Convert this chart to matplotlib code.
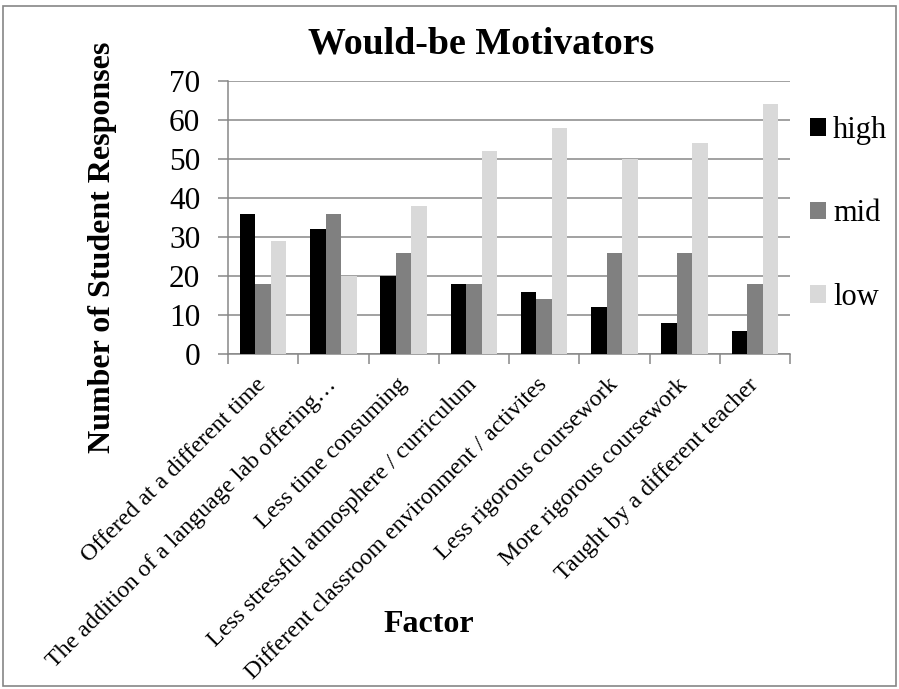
import matplotlib
matplotlib.use("Agg")
import matplotlib.pyplot as plt
import numpy as np
from matplotlib.patches import Rectangle

plt.rcParams['font.family'] = ['Liberation Serif', 'DejaVu Serif']

categories = ["Offered at a different time",
              "The addition of a language lab offering\u2026",
              "Less time consuming",
              "Less stressful atmosphere / curriculum",
              "Different classroom environment / activites",
              "Less rigorous coursework",
              "More rigorous coursework",
              "Taught by a different teacher"]
high = [36, 32, 20, 18, 16, 12, 8, 6]
mid = [18, 36, 26, 18, 14, 26, 26, 18]
low = [29, 20, 38, 52, 58, 50, 54, 64]
series_names = ["high", "mid", "low"]
colors = ["#000000", "#808080", "#d9d9d9"]
yticks = [0, 10, 20, 30, 40, 50, 60, 70]

W, H = 899, 689
fig = plt.figure(figsize=(W / 100, H / 100), dpi=100)
fig.patches.append(Rectangle((3 / W, 3 / H), 1 - 6 / W, 1 - 9 / H, transform=fig.transFigure,
                             fill=False, edgecolor="#868686", linewidth=1.2))

ax = fig.add_axes([228 / W, 1 - 354 / H, 562 / W, 273 / H])
x = np.arange(len(categories))
bw = 0.22
for i, (vals, c, n) in enumerate(zip([high, mid, low], colors, series_names)):
    ax.bar(x + (i - 1) * bw, vals, width=bw, color=c, label=n, zorder=3)

ax.set_xlim(-0.5, len(categories) - 0.5)
ax.set_ylim(0, 70)
ax.set_yticks(yticks)
ax.yaxis.grid(True, color="#878787", linewidth=1.1, zorder=0)
for s in ["top", "right"]:
    ax.spines[s].set_visible(False)
for s in ["left", "bottom"]:
    ax.spines[s].set_color("#878787")
    ax.spines[s].set_linewidth(1.1)

ax.set_xticks(np.arange(-0.5, len(categories), 1.0), minor=False)
ax.set_xticklabels([])
ax.set_xticks(x, minor=True)
ax.set_xticklabels(categories, minor=True, rotation=45, ha="right", va="center",
                   rotation_mode="anchor", fontsize=17.3)
ax.tick_params(axis="x", which="major", length=7, width=1.1, color="#878787", direction="out")
ax.tick_params(axis="x", which="minor", length=0, pad=20)
ax.tick_params(axis="y", length=7, width=1.1, color="#878787", labelsize=22.5, pad=13)

fig.text(103 / W, 1 - 247.5 / H, "Number of Student Responses", rotation=90, ha="center", va="center",
         fontsize=23, fontweight="bold")
fig.text(481 / W, 1 - 53 / H, "Would-be Motivators", ha="center", va="baseline",
         fontsize=27.3, fontweight="bold")
fig.text(429 / W, 1 - 632 / H, "Factor", ha="center", va="baseline", fontsize=23, fontweight="bold")

leg = ax.legend(loc="upper left", bbox_to_anchor=(810 / W, 1 - 116 / H), bbox_transform=fig.transFigure,
                frameon=False, fontsize=22, handlelength=0.52, handleheight=0.52, handletextpad=0.23,
                labelspacing=1.78, borderpad=0, borderaxespad=0)

fig.savefig("out.png", dpi=100)
